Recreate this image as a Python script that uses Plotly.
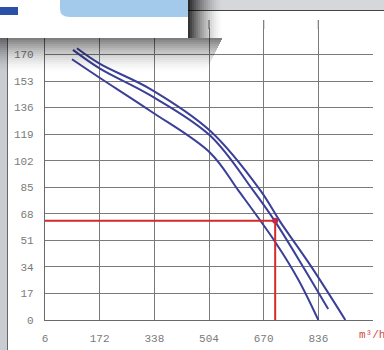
import plotly.graph_objects as go

# fan curves (flow m3/h, pressure)
flow_a = [88, 173, 325, 508, 593, 705, 775, 836]
pres_a = [167, 155, 134, 107, 83, 50, 26, 0]
flow_b = [91, 173, 325, 508, 638, 705, 790, 866]
pres_b = [173, 161, 144, 118, 83, 63, 34, 7]
flow_c = [103, 173, 325, 508, 660, 720, 815, 918]
pres_c = [174, 164, 148, 121, 83, 63, 34, 0]

work_flow = 705
work_pres = 63.5

x_ticks = [6, 172, 338, 504, 670, 836]
y_ticks = [0, 17, 34, 51, 68, 85, 102, 119, 136, 153, 170, 187]
y_text = [str(v) for v in y_ticks[:-1]] + [""]

W, H = 384, 350
L, R, T, B = 45, 11, 28, 30
PW, PH = W - L - R, H - T - B


def fx(px):
    return (px - L) / PW


def fy(py):
    return (H - B - py) / PH


def box(x0, y0, x1, y1, color, layer="above"):
    return dict(type="rect", xref="paper", yref="paper",
                x0=fx(x0), x1=fx(x1), y0=fy(y1), y1=fy(y0),
                fillcolor=color, line=dict(width=0), layer=layer)


fig = go.Figure()
blue = "#3a3f98"
for fl, pr in [(flow_a, pres_a), (flow_b, pres_b), (flow_c, pres_c)]:
    fig.add_trace(go.Scatter(x=fl, y=pr, mode="lines", line=dict(color=blue, width=2, shape="spline"),
                             showlegend=False, hoverinfo="skip"))

red = "#d42a2a"
fig.add_trace(go.Scatter(x=[x_ticks[0], work_flow, work_flow], y=[work_pres, work_pres, 0], mode="lines",
                         line=dict(color=red, width=2), showlegend=False, hoverinfo="skip"))
fig.add_trace(go.Scatter(x=[work_flow], y=[work_pres], mode="markers",
                         marker=dict(color="#c02a4a", size=6), showlegend=False, hoverinfo="skip"))

shapes = []
# vertical grid stubs above the top line
for v in x_ticks[1:]:
    shapes.append(dict(type="line", xref="x", yref="paper", x0=v, x1=v, y0=fy(29), y1=fy(20),
                       line=dict(color="#7a7a7a", width=1.2), layer="below"))
# left stripe
shapes.append(box(0, 38, 7, 350, "#c9ccd1"))
shapes.append(box(7, 38, 8, 350, "#666666"))
# top grey bar
shapes.append(box(188, 0, 384, 10, "#d6d7db"))
shapes.append(box(188, 10, 384, 11, "#444444"))
# shadow under and right of the white box
n = 17
for i in range(n):
    a = 0.5 * (1 - i / n) ** 1.6
    shapes.append(box(0, 38 + 2 * i, 222 - i, 40 + 2 * i, f"rgba(0,0,0,{a:.3f})"))
for i in range(n):
    a = 0.8 * (1 - i / n) ** 1.6
    shapes.append(box(188 + 2 * i, 0, 190 + 2 * i, 38, f"rgba(0,0,0,{a:.3f})"))
# white box with tabs
shapes.append(box(0, 0, 188, 38, "white"))
shapes.append(box(0, 7, 18, 15, "#2b50a8"))
shapes.append(dict(type="path", xref="paper", yref="paper", layer="above",
                   path=f"M {fx(60)},{fy(0)} L {fx(60)},{fy(9)} Q {fx(60)},{fy(17)} {fx(70)},{fy(17)} "
                        f"L {fx(188)},{fy(17)} L {fx(188)},{fy(0)} Z",
                   fillcolor="#a3caea", line=dict(width=0)))

fig.update_layout(
    width=W, height=H,
    margin=dict(l=L, r=R, t=T, b=B, autoexpand=False),
    paper_bgcolor="white", plot_bgcolor="white",
    shapes=shapes,
    font=dict(family="Liberation Mono", size=11, color="#7a7a7a"),
    annotations=[dict(text="m³/h", xref="paper", yref="paper", x=fx(357), y=fy(335),
                      xanchor="left", yanchor="middle", showarrow=False,
                      font=dict(family="Liberation Mono", size=11, color="#d04848"))],
)
fig.update_xaxes(range=[6, 1002], tickvals=x_ticks, showgrid=True, gridcolor="#7a7a7a", gridwidth=1.2,
                 showline=True, linecolor="#6a6a6a", linewidth=1.2, zeroline=False, automargin=False,
                 ticks="", ticklabelstandoff=8)
fig.update_yaxes(range=[0, 187], tickvals=y_ticks, ticktext=y_text, showgrid=True, gridcolor="#7a7a7a",
                 gridwidth=1.2, showline=True, linecolor="#6a6a6a", linewidth=1.2, zeroline=False,
                 automargin=False, ticks="", ticklabelstandoff=8)

# page has a default 8px body margin; drop it so the figure fills the window
fig.write_html("out.html", config={"displayModeBar": False},
               post_script="document.body.style.margin='0';")
